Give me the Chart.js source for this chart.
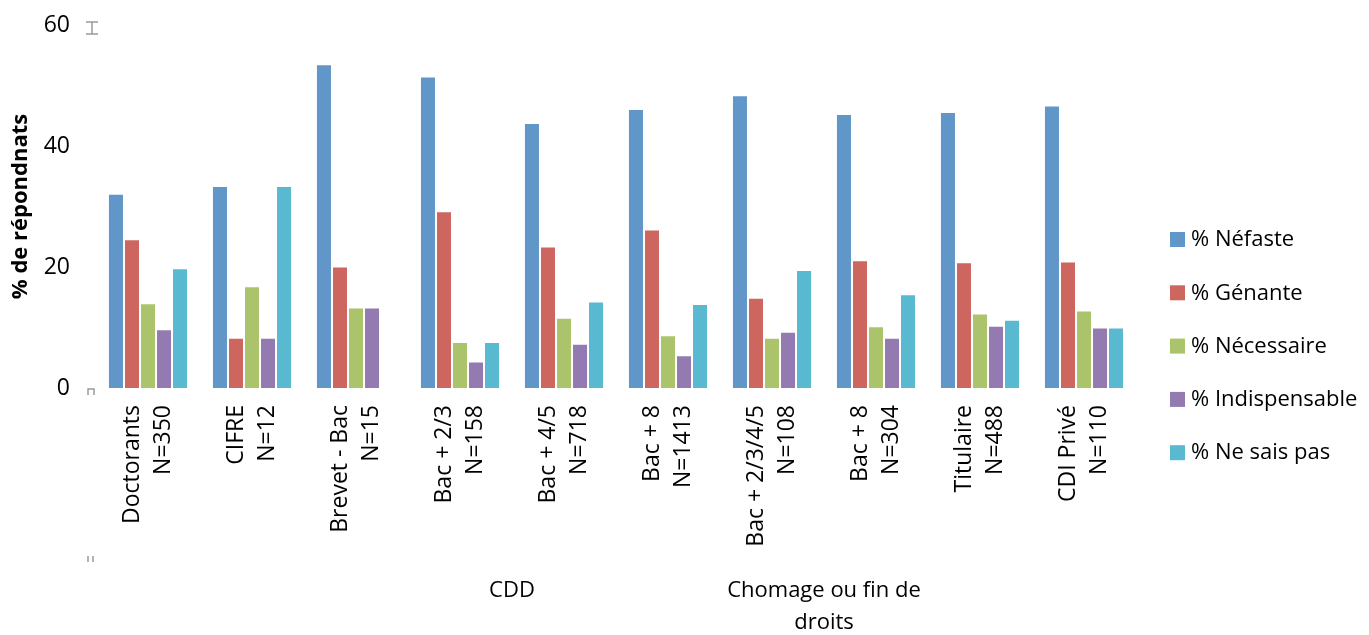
<!DOCTYPE html>
<html>
<head>
<meta charset="utf-8">
<script src="https://cdn.jsdelivr.net/npm/chart.js@4.4.1/dist/chart.umd.min.js"></script>
<style>
  html, body { margin: 0; padding: 0; background: #fff; }
  #wrap { width: 1369px; height: 635px; position: relative; }
</style>
</head>
<body>
<div id="wrap"><canvas id="reponsesChart"></canvas></div>
<script>
// --- donnees ---
const categories = [
    ['Doctorants', 'N=350'],
    ['CIFRE', 'N=12'],
    ['Brevet - Bac', 'N=15'],
    ['Bac + 2/3', 'N=158'],
    ['Bac + 4/5', 'N=718'],
    ['Bac + 8', 'N=1413'],
    ['Bac + 2/3/4/5', 'N=108'],
    ['Bac + 8', 'N=304'],
    ['Titulaire', 'N=488'],
    ['CDI Privé', 'N=110']
];
const seriesNames = ['% Néfaste', '% Génante', '% Nécessaire', '% Indispensable', '% Ne sais pas'];
const nefaste       = [32.1, 33.4, 53.5, 51.5, 43.8, 46.1, 48.4, 45.3, 45.6, 46.7];
const genante       = [24.6, 8.3, 20.1, 29.2, 23.4, 26.2, 14.9, 21.1, 20.8, 20.9];
const necessaire    = [14.0, 16.8, 13.3, 7.6, 11.6, 8.7, 8.3, 10.2, 12.3, 12.8];
const indispensable = [9.7, 8.3, 13.3, 4.4, 7.3, 5.4, 9.3, 8.3, 10.3, 10.0];
const neSaisPas     = [19.8, 33.4, null, 7.6, 14.3, 13.9, 19.5, 15.5, 11.3, 10.0];
const yTicks = [0, 20, 40, 60];
const groupNames = [['CDD'], ['Chomage ou fin de', 'droits']];
const groupFirst = [2, 6];
const groupLast  = [5, 7];

const colors = ['#6096c8', '#cd665e', '#abc46c', '#937bb2', '#58b9d1'];
const seriesValues = [nefaste, genante, necessaire, indispensable, neSaisPas];
const FONT = '"Open Sans", sans-serif';

// etiquettes des categories, groupes et legende
const labelsPlugin = {
    id: 'labelsPlugin',
    afterDraw(chart) {
        const {ctx, chartArea} = chart;
        const xScale = chart.scales.x;
        ctx.save();
        ctx.fillStyle = '#000';

        // etiquettes verticales sur deux lignes
        ctx.font = '23px ' + FONT;
        ctx.textAlign = 'right';
        ctx.textBaseline = 'middle';
        const lh = 31;
        categories.forEach((lines, i) => {
            const x = xScale.getPixelForValue(i);
            ctx.save();
            ctx.translate(x, chartArea.bottom + 17);
            ctx.rotate(-Math.PI / 2);
            lines.forEach((line, j) => {
                ctx.fillText(line, 0, (j - (lines.length - 1) / 2) * lh);
            });
            ctx.restore();
        });

        // groupes (CDD, Chomage)
        ctx.font = '22px ' + FONT;
        ctx.textAlign = 'center';
        groupNames.forEach((lines, g) => {
            const x = (xScale.getPixelForValue(groupFirst[g]) + xScale.getPixelForValue(groupLast[g])) / 2;
            lines.forEach((line, j) => {
                ctx.fillText(line, x, chartArea.bottom + 203 + j * 32);
            });
        });

        // petites marques grises de l'axe
        ctx.strokeStyle = '#9a9a9a';
        ctx.lineWidth = 1.5;
        const ax = chartArea.left - 4;
        ctx.beginPath();
        ctx.moveTo(ax - 6, chartArea.top - 3); ctx.lineTo(ax + 6, chartArea.top - 3);
        ctx.moveTo(ax - 6, chartArea.top + 9); ctx.lineTo(ax + 6, chartArea.top + 9);
        ctx.moveTo(ax, chartArea.top - 3); ctx.lineTo(ax, chartArea.top + 9);
        ctx.moveTo(ax - 4, chartArea.bottom + 7); ctx.lineTo(ax - 4, chartArea.bottom + 1);
        ctx.lineTo(ax + 2, chartArea.bottom + 1); ctx.lineTo(ax + 2, chartArea.bottom + 7);
        ctx.moveTo(ax - 4, chartArea.bottom + 168); ctx.lineTo(ax - 4, chartArea.bottom + 174);
        ctx.moveTo(ax + 1, chartArea.bottom + 168); ctx.lineTo(ax + 1, chartArea.bottom + 174);
        ctx.stroke();

        // legende
        ctx.font = '22px ' + FONT;
        ctx.textAlign = 'left';
        const boxX = chartArea.right + 34;
        const step = 53.3;
        const top = 240;
        chart.data.datasets.forEach((ds, i) => {
            const y = top + i * step;
            ctx.fillStyle = ds.backgroundColor;
            ctx.fillRect(boxX, y - 8, 15, 15);
            ctx.fillStyle = '#000';
            ctx.fillText(ds.label, boxX + 21, y);
        });
        ctx.restore();
    }
};

new Chart(document.getElementById('reponsesChart'), {
    type: 'bar',
    data: {
        labels: categories.map(c => c.join(' ')),
        datasets: seriesNames.map((name, i) => ({
            label: name,
            data: seriesValues[i],
            backgroundColor: colors[i],
            borderColor: 'rgba(255,255,255,0.35)',
            borderWidth: 1
        }))
    },
    options: {
        responsive: true,
        maintainAspectRatio: false,
        animation: false,
        layout: { padding: { top: 25, right: 233, left: 0, bottom: 0 } },
        datasets: { bar: { categoryPercentage: 0.77, barPercentage: 1.0 } },
        plugins: {
            legend: { display: false },
            tooltip: { enabled: false }
        },
        scales: {
            x: {
                grid: { display: false, drawTicks: false },
                border: { display: false },
                ticks: { display: false },
                afterFit(scale) {
                    scale.height = 247;
                    scale.paddingLeft = 0; scale.paddingRight = 0;
                }
            },
            y: {
                min: yTicks[0],
                max: yTicks[yTicks.length - 1],
                grid: { display: false, drawTicks: false },
                border: { display: false },
                afterBuildTicks(scale) { scale.ticks = yTicks.map(v => ({ value: v })); },
                ticks: {
                    padding: 26,
                    color: '#000',
                    font: { family: FONT, size: 23 }
                },
                title: {
                    display: true,
                    text: '% de répondnats',
                    color: '#000',
                    font: { family: FONT, size: 22, weight: 'bold' },
                    padding: { top: 8, bottom: 0 }
                },
                afterFit(scale) {
                    scale.width = 96;
                    scale.paddingTop = 0; scale.paddingBottom = 0;
                }
            }
        }
    },
    plugins: [labelsPlugin]
});
</script>
</body>
</html>
